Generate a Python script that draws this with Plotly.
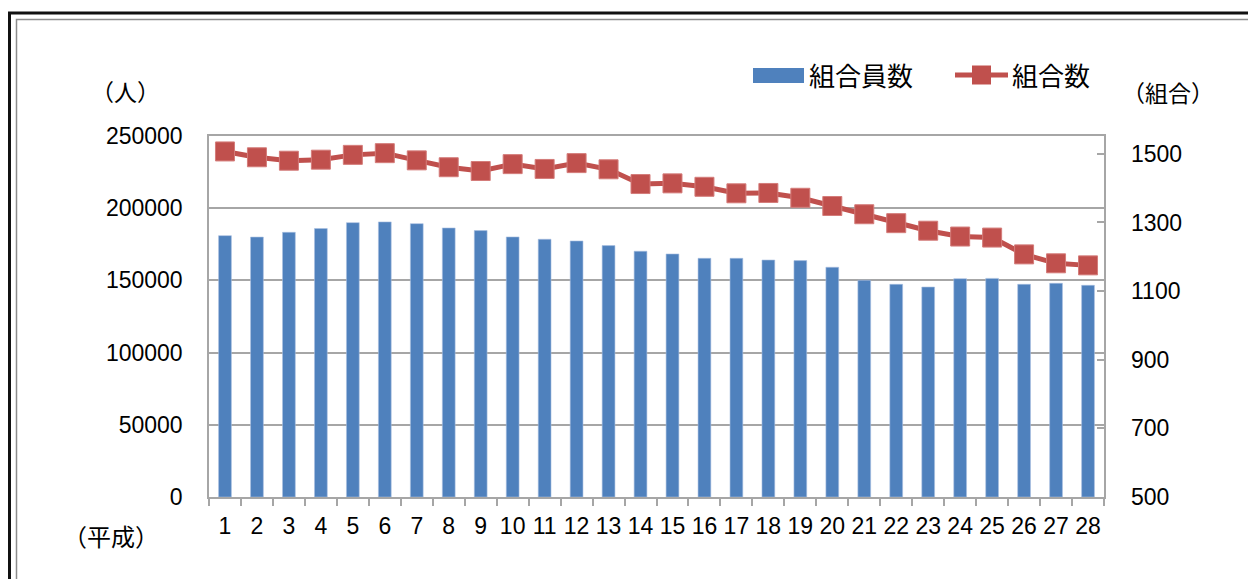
import plotly.graph_objects as go

# ---- data ----
years = [str(i) for i in range(1, 29)]
members = [181000, 180000, 183300, 185900, 190000, 190500, 189300, 186300, 184500, 180100,
           178500, 177300, 174100, 170200, 168300, 165300, 165300, 164100, 163700, 159100,
           150100, 147300, 145400, 151200, 151400, 147300, 148000, 146600]
unions = [1507, 1490, 1480, 1483, 1497, 1502, 1481, 1461, 1450, 1470,
          1456, 1473, 1455, 1412, 1414, 1404, 1385, 1386, 1372, 1348,
          1324, 1298, 1276, 1259, 1256, 1207, 1181, 1175]
left_ticks = [0, 50000, 100000, 150000, 200000, 250000]
right_ticks = [500, 700, 900, 1100, 1300, 1500]
name_bar = "組合員数"
name_line = "組合数"

OFF = 8  # page body margin
W, H = 1256 - OFF, 579 - OFF
L, R, T, B = 209, 1104, 136, 497  # screen coords of plot area

def px(x):
    return (x - L) / (R - L)

def py(y):
    return 1 - (y - T) / (B - T)

BLUE = "#4f81bd"
RED = "#c0504d"
GRID = "#a6a6a6"
NUMFONT = "Liberation Sans, Arial, sans-serif"
JPFONT = "Noto Sans CJK JP, sans-serif"

fig = go.Figure()
fig.add_trace(go.Bar(x=years, y=members, name=name_bar,
                     marker=dict(color=BLUE, line=dict(color="#a9c0e0", width=0.6)),
                     showlegend=False))
fig.add_trace(go.Scatter(x=years, y=unions, name=name_line, yaxis="y2", mode="lines+markers",
                         line=dict(color=RED, width=5),
                         marker=dict(symbol="square", size=19, color=RED, line=dict(color="#d47c7a", width=1)),
                         showlegend=False))

shapes = []
# outer frame (double border)
shapes.append(dict(type="rect", xref="paper", yref="paper", x0=px(9.5), y0=py(620), x1=px(1320), y1=py(13),
                   line=dict(color="#111111", width=3), fillcolor="rgba(0,0,0,0)", layer="below"))
shapes.append(dict(type="rect", xref="paper", yref="paper", x0=px(16.5), y0=py(620), x1=px(1320), y1=py(19.5),
                   line=dict(color="#8c8c8c", width=1.5), fillcolor="rgba(0,0,0,0)", layer="below"))
# custom legend
shapes.append(dict(type="rect", xref="paper", yref="paper", x0=px(753), x1=px(804), y0=py(83), y1=py(68),
                   line=dict(width=0), fillcolor=BLUE))
shapes.append(dict(type="line", xref="paper", yref="paper", x0=px(955), x1=px(1008), y0=py(75), y1=py(75),
                   line=dict(color=RED, width=5)))
shapes.append(dict(type="rect", xref="paper", yref="paper", x0=px(972), x1=px(991), y0=py(84.5), y1=py(65.5),
                   line=dict(width=0), fillcolor=RED))

annotations = [
    dict(text=name_bar, x=px(807), y=py(74), xanchor="left", yanchor="middle", showarrow=False,
         xref="paper", yref="paper", font=dict(family=JPFONT, size=26, color="#000")),
    dict(text=name_line, x=px(1010), y=py(74), xanchor="left", yanchor="middle", showarrow=False,
         xref="paper", yref="paper", font=dict(family=JPFONT, size=26, color="#000")),
    dict(text="（人）", x=px(89), y=py(91), xanchor="left", yanchor="middle", showarrow=False,
         xref="paper", yref="paper", font=dict(family=JPFONT, size=23, color="#000")),
    dict(text="（組合）", x=px(1120), y=py(92), xanchor="left", yanchor="middle", showarrow=False,
         xref="paper", yref="paper", font=dict(family=JPFONT, size=23, color="#000")),
    dict(text="（平成）", x=px(61), y=py(535), xanchor="left", yanchor="middle", showarrow=False,
         xref="paper", yref="paper", font=dict(family=JPFONT, size=24, color="#000")),
]

fig.update_layout(
    width=W, height=H,
    margin=dict(l=L - OFF, r=W - (R - OFF), t=T - OFF, b=H - (B - OFF), pad=0),
    paper_bgcolor="white", plot_bgcolor="white",
    bargap=0.6,
    showlegend=False,
    shapes=shapes,
    annotations=annotations,
    xaxis=dict(type="category", range=[-0.5, len(years) - 0.5], showline=True, linecolor=GRID, linewidth=1.5,
               mirror=True, ticks="outside", ticklen=7, tickcolor=GRID, tickwidth=1.5, tickson="boundaries",
               tickangle=0, tickfont=dict(family=NUMFONT, size=23, color="#000"), ticklabelstandoff=8,
               showgrid=False),
    yaxis=dict(range=[0, 250000], tickvals=left_ticks, ticktext=[str(v) for v in left_ticks],
               showgrid=True, gridcolor=GRID, gridwidth=1.5,
               showline=True, linecolor=GRID, linewidth=1.5, mirror=True, ticks="",
               tickfont=dict(family=NUMFONT, size=23, color="#000"), ticklabelstandoff=20,
               zeroline=False),
    yaxis2=dict(range=[500, 1552], tickvals=right_ticks, ticktext=[str(v) for v in right_ticks],
                overlaying="y", side="right", showgrid=False, showline=False,
                ticks="inside", ticklen=7, tickcolor=GRID, tickwidth=1.5,
                tickfont=dict(family=NUMFONT, size=23, color="#000"), ticklabelstandoff=26,
                zeroline=False),
)

fig.write_html("out.html")
